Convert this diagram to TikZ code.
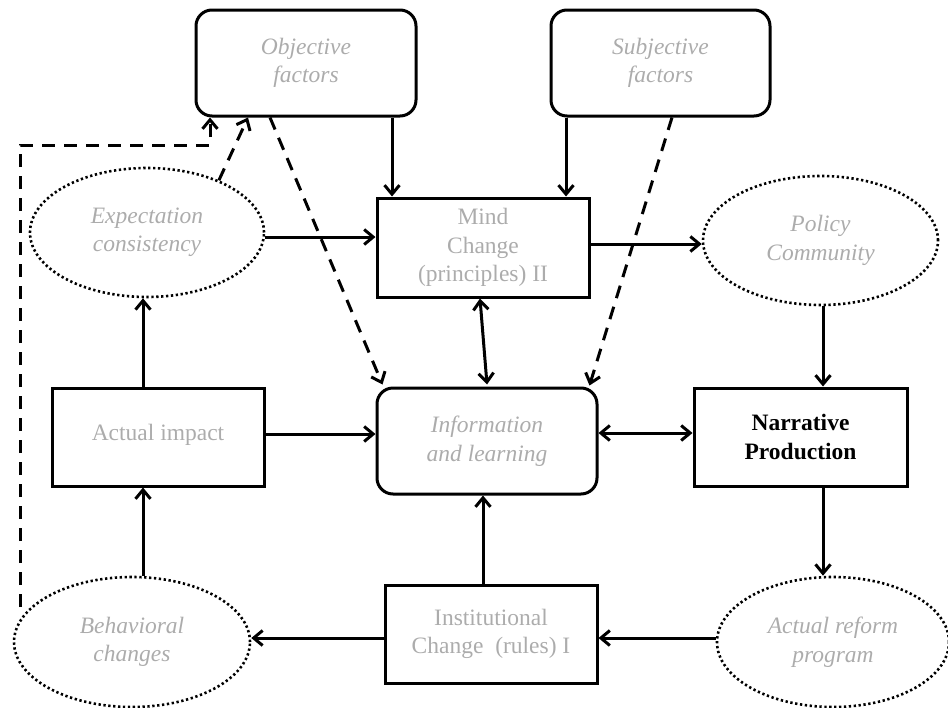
\documentclass[tikz,border=0pt]{standalone}
\usepackage{fontspec}
\setmainfont{Liberation Serif}
\usetikzlibrary{arrows.meta,shapes.geometric}
\definecolor{fade}{RGB}{172,172,172}
\begin{document}
\begin{tikzpicture}[x=1pt,y=-1pt,
  every node/.style={font=\fontsize{23.5}{28.5}\selectfont, align=center, inner sep=0pt},
  base/.style={draw=black, line width=3pt, text=fade, minimum width=#1},
  boxr/.style={base=220pt, rectangle, rounded corners=16pt, minimum height=106pt},
  boxs/.style={base=212pt, rectangle, minimum height=98pt},
  oval/.style={base=#1, ellipse, line width=2.6pt, dash pattern=on 2.3pt off 2.6pt, minimum height=129pt},
  arr/.style={line width=3pt, -{Straight Barb[length=9pt,width=15pt]}},
  darr/.style={line width=3pt, {Straight Barb[length=9pt,width=15pt]}-{Straight Barb[length=9pt,width=15pt]}},
  dsh/.style={arr, dash pattern=on 13pt off 9pt}]
\useasboundingbox (0,0) rectangle (948,707);

% top factor boxes
\node[boxr] (obj)  at (306,63)    {\itshape Objective\\\itshape factors};
\node[boxr, minimum width=219pt] (subj) at (660.5,63) {\itshape Subjective\\\itshape factors};

% middle row
\node[boxs, minimum height=99pt] (mind) at (483,247.5) {Mind\\Change\\(principles) II};
\node[oval=234pt] (expect) at (147,232.5) {\itshape Expectation\\\itshape consistency};
\node[oval=235pt] (policy) at (820.5,240.5) {\itshape Policy\\\itshape Community};

\node[boxs] (impact) at (158,437) {\raisebox{10pt}{Actual impact}};
\node[boxr] (info) at (487,441) {\itshape Information\\\itshape and learning};
\node[boxs, minimum width=213pt, text=black] (narr) at (800.5,437) {\bfseries Narrative\\\bfseries Production};

% bottom row
\node[boxs] (inst) at (491,634) {Institutional\\Change~ (rules) I};
\node[oval=236pt, minimum height=130pt] (behav) at (132,642) {\itshape Behavioral\\\itshape changes};
\node[oval=232pt, minimum height=130pt] (reform) at (833,642) {\itshape Actual reform\\\itshape program};

% solid connectors
\draw[arr] ([xshift=86pt]obj.south) -- ([xshift=-91pt]mind.north);
\draw[arr] ([xshift=-94.5pt]subj.south) -- ([xshift=83pt]mind.north);
\draw[arr] ([yshift=-4.5pt]expect.east) -- ([yshift=10.5pt]mind.west);
\draw[arr] ([yshift=3.5pt]mind.east) -- ([yshift=-3.5pt]policy.west);
\draw[arr] ([xshift=2.5pt]policy.south) -- ([xshift=22.5pt]narr.north);
\draw[darr] ([xshift=-3pt]mind.south) -- ([xshift=0pt,yshift=2pt]info.north);
\draw[darr] ([yshift=8pt]info.east) -- ([yshift=4pt]narr.west);
\draw[arr] ([xshift=22.5pt]narr.south) -- ([xshift=-10pt]reform.north);
\draw[arr] ([yshift=4pt]reform.west) -- ([yshift=-4pt]inst.east);
\draw[arr] ([yshift=-4pt]inst.west) -- ([yshift=4pt]behav.east);
\draw[arr] ([xshift=-8pt]inst.north) -- ([xshift=-4pt]info.south);
\draw[arr] ([xshift=11pt]behav.north) -- ([xshift=-15pt]impact.south);
\draw[arr] ([xshift=-15pt]impact.north) -- ([xshift=-4pt]expect.south);
\draw[arr] ([yshift=3pt]impact.east) -- ([yshift=7pt]info.west);

% dashed influences
\draw[dsh] ([xshift=-36pt]obj.south) -- ([xshift=7pt,yshift=2pt]info.north west);
\draw[dsh] ([xshift=11.5pt]subj.south) -- ([xshift=-9pt,yshift=1pt]info.north east);
\draw[dsh] (expect.36) -- ([xshift=-58pt]obj.south);
\coordinate (loopstart) at (20,607);
\draw[dsh] (loopstart) -- (20,145) -- (210,145) -- ([xshift=-96pt]obj.south);
\end{tikzpicture}
\end{document}
